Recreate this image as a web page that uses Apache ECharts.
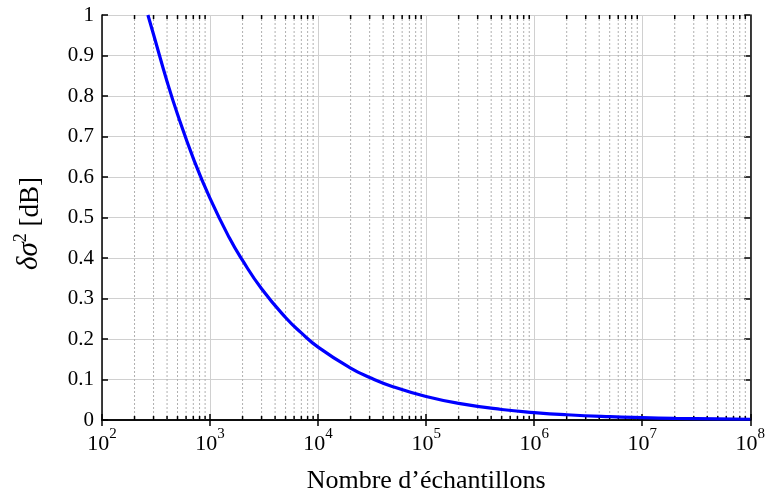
<!DOCTYPE html>
<html><head><meta charset="utf-8">
<script src="https://cdn.jsdelivr.net/npm/echarts@6/dist/echarts.min.js"></script>
<style>html,body{margin:0;padding:0;background:#fff}#c{width:768px;height:499px}</style>
</head><body><div id="c"></div>
<script>
// Data
const samples = [266, 300, 400, 500, 700, 1000, 1500, 2000, 3000, 5000, 7000, 1e4, 2e4, 3e4, 5e4, 1e5, 2e5, 5e5, 1e6, 2e6, 5e6, 1e7, 2e7, 5e7, 1e8];
const deltaSigma2 = [1.0, 0.952, 0.836, 0.755, 0.646, 0.547, 0.451, 0.394, 0.324, 0.253, 0.215, 0.180, 0.128, 0.105, 0.0816, 0.0579, 0.0410, 0.0260, 0.0184, 0.0130, 0.0082, 0.0058, 0.0041, 0.0026, 0.0018];
const xDecades = [2, 3, 4, 5, 6, 7, 8];
const yTicks = ['0', '0.1', '0.2', '0.3', '0.4', '0.5', '0.6', '0.7', '0.8', '0.9', '1'];
const minorMultipliers = [2, 3, 4, 5, 6, 7, 8, 9];

const minorTicks = [];
for (let d = 2; d < 8; d++) for (const m of minorMultipliers) minorTicks.push([m * Math.pow(10, d), 0]);

const FONT = '"Liberation Serif", "DejaVu Serif", serif';
const chart = echarts.init(document.getElementById('c'));
const axisLineStyle = { color: '#000', width: 1.5 };
chart.setOption({
  animation: false,
  grid: { left: 102, right: 16, top: 15, bottom: 79 },
  xAxis: [{
    type: 'log', logBase: 10, min: 100, max: 1e8,
    axisLine: { show: true, lineStyle: axisLineStyle, onZero: false },
    axisTick: { show: true, inside: true, length: 6, lineStyle: axisLineStyle },
    splitLine: { show: true, lineStyle: { color: '#d0d0d0', width: 1 } },
    axisLabel: {
      margin: 7, fontFamily: FONT, fontSize: 22, color: '#000',
      formatter: function (v) { const e = Math.round(Math.log10(v)); return xDecades.indexOf(e) >= 0 ? '{b|10}{sup|' + e + '}' : ''; },
      rich: {
        b: { fontFamily: FONT, fontSize: 22, color: '#000', verticalAlign: 'bottom' },
        sup: { fontFamily: FONT, fontSize: 15, color: '#000', verticalAlign: 'top', padding: [0, 0, 13, 0] }
      }
    },
    name: 'Nombre d\u2019\u00e9chantillons', nameLocation: 'middle', nameGap: 48,
    nameTextStyle: { fontFamily: FONT, fontSize: 26, color: '#000' }
  }, {
    type: 'log', logBase: 10, min: 100, max: 1e8, position: 'top',
    axisLine: { show: true, lineStyle: axisLineStyle },
    axisTick: { show: true, inside: true, length: 6, lineStyle: axisLineStyle },
    splitLine: { show: false }, axisLabel: { show: false }
  }],
  yAxis: [{
    type: 'value', min: 0, max: 1, interval: 0.1,
    axisLine: { show: true, lineStyle: axisLineStyle, onZero: false },
    axisTick: { show: true, inside: true, length: 6, lineStyle: axisLineStyle },
    splitLine: { show: true, lineStyle: { color: '#d0d0d0', width: 1 } },
    axisLabel: {
      margin: 8, fontFamily: FONT, fontSize: 21, color: '#000',
      formatter: function (v) { return yTicks[Math.round(v * 10)]; }
    },
    name: '{i|\u03b4\u03c3}{sup|2}{b| [dB]}', nameLocation: 'middle', nameGap: 58, nameRotate: 90,
    nameTextStyle: {
      fontFamily: FONT, fontSize: 28, color: '#000', padding: [0, 12, 0, 0],
      rich: {
        i: { fontFamily: FONT, fontStyle: 'italic', fontSize: 29, color: '#000', verticalAlign: 'bottom' },
        b: { fontFamily: FONT, fontSize: 27, color: '#000', verticalAlign: 'bottom' },
        sup: { fontFamily: FONT, fontSize: 18, color: '#000', verticalAlign: 'top', padding: [0, 0, 14, 0] }
      }
    }
  }, {
    type: 'value', min: 0, max: 1, interval: 0.1, position: 'right',
    axisLine: { show: true, lineStyle: axisLineStyle },
    axisTick: { show: true, inside: true, length: 6, lineStyle: axisLineStyle },
    splitLine: { show: false }, axisLabel: { show: false }
  }],
  series: [{
    type: 'custom', xAxisIndex: 0, yAxisIndex: 0, z: 1, silent: true,
    data: minorTicks,
    renderItem: function (params, api) {
      const x = api.coord([api.value(0), 0])[0];
      const cs = params.coordSys;
      const top = cs.y, bot = cs.y + cs.height;
      return {
        type: 'group', children: [
          { type: 'line', shape: { x1: x, y1: top, x2: x, y2: bot }, style: { stroke: '#b0b0b0', lineWidth: 1, lineDash: [2, 2] } },
          { type: 'line', shape: { x1: x, y1: bot, x2: x, y2: bot - 4 }, style: { stroke: '#000', lineWidth: 1.5 } },
          { type: 'line', shape: { x1: x, y1: top, x2: x, y2: top + 4 }, style: { stroke: '#000', lineWidth: 1.5 } }
        ]
      };
    }
  }, {
    type: 'line', xAxisIndex: 0, yAxisIndex: 0, z: 5,
    data: samples.map((n, i) => [n, deltaSigma2[i]]),
    smooth: true, showSymbol: false, clip: true,
    lineStyle: { color: '#0000ff', width: 3.2 }
  }]
});
</script></body></html>
